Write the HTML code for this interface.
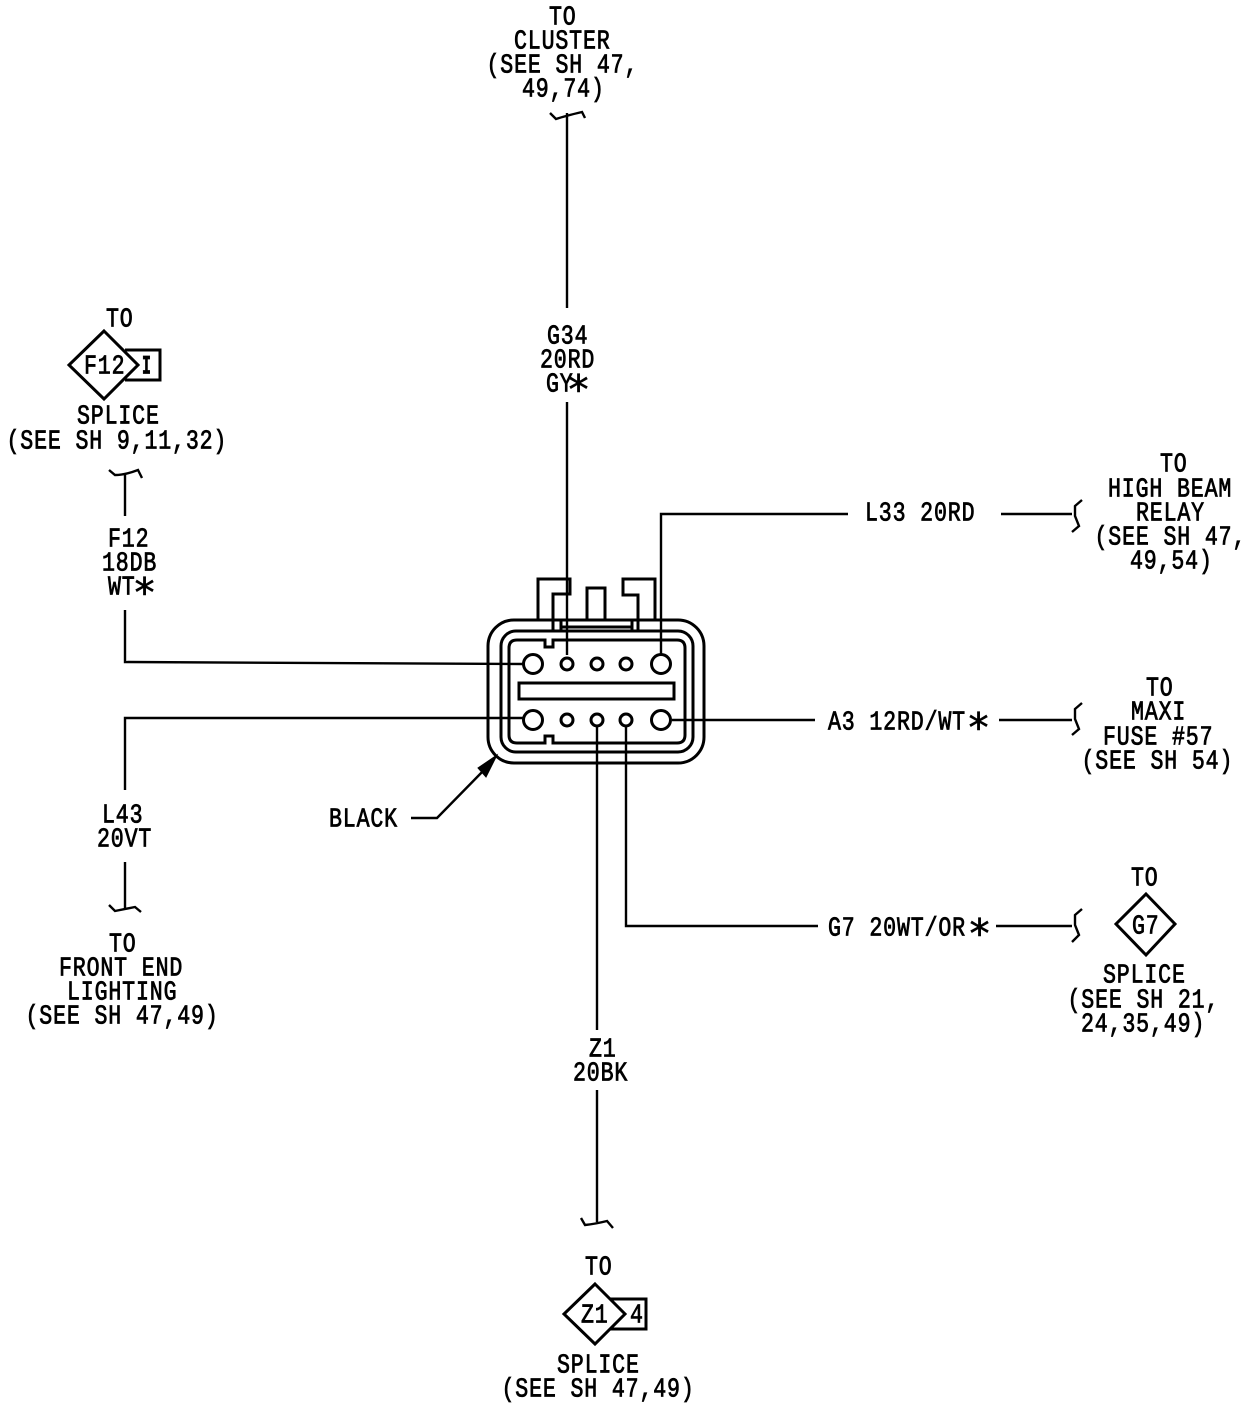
<!DOCTYPE html>
<html><head><meta charset="utf-8"><style>
html,body{margin:0;padding:0;background:#fff}
svg{display:block}
text{font-family:"Liberation Mono",monospace;font-size:27px;letter-spacing:1.05px;fill:#000;stroke:#000;stroke-width:.8px}
.a{font-family:"DejaVu Sans Mono",monospace;font-size:40px;letter-spacing:0;text-anchor:middle;stroke-width:.6px}
.b{font-weight:bold;text-anchor:middle;letter-spacing:0}
.w{fill:none;stroke:#000;stroke-width:2.4}
.t{fill:none;stroke:#000;stroke-width:3}
</style></head><body>
<svg width="1248" height="1406" viewBox="0 0 1248 1406" xmlns="http://www.w3.org/2000/svg">
<g class="w">
<!-- wires -->
<path d="M567 113V308M567 402V655"/>
<path d="M661 655V514H848M1001 514H1072"/>
<path d="M125 474V516M125 610V662L524 664"/>
<path d="M524 718L125 718V790M125 862V910"/>
<path d="M672 720H815M999 720H1072"/>
<path d="M626 726V926H818M996 926H1072"/>
<path d="M597 726V1030M597 1090V1222"/>
<!-- breaks -->
<path d="M550 113L556 119Q565 116 582 112L585 118"/>
<path d="M109 470L115 475Q125 475 138 470L142 478"/>
<path d="M109 905L115 911Q125 909 135 907L141 912"/>
<path d="M581 1218L585 1225Q595 1224 607 1221L613 1228"/>
<path d="M1082 500L1075 506V516L1079 526L1072 532"/>
<path d="M1082 703L1075 709V719L1079 729L1072 735"/>
<path d="M1082 909L1075 915V925L1079 935L1072 942"/>
<!-- arrow -->
<path d="M411 818H437L486 768"/>
</g>
<path d="M497 755L478 768L486 777Z" fill="#000" stroke="#000"/>
<g class="t">
<!-- connector body -->
<rect x="488" y="620" width="216" height="143" rx="26"/>
<rect x="501" y="631" width="192" height="121" rx="15"/>
<path d="M517 640H545V647H553V640H677Q685 640 685 648V735Q685 743 677 743H553V736H545V743H517Q509 743 509 735V648Q509 640 517 640Z"/>
<rect x="519" y="683" width="155" height="16"/>
<circle cx="533" cy="664" r="9.5"/><circle cx="661" cy="664" r="9.5"/>
<circle cx="533" cy="720" r="9.5"/><circle cx="661" cy="720" r="9.5"/>
<circle cx="567" cy="664" r="6"/><circle cx="597" cy="664" r="6"/><circle cx="626" cy="664" r="6"/>
<circle cx="567" cy="720" r="6"/><circle cx="597" cy="720" r="6"/><circle cx="626" cy="720" r="6"/>
<!-- tabs -->
<path d="M538 620V579H570V594H553V631"/>
<path d="M655 620V579H623V595H638V631"/>
<path d="M561 631V620H587V588H605V620H632V631M561 627H632"/>
<!-- splice symbols -->
<path d="M104 331L138 365L104 399L69 365Z"/>
<path d="M125 350H160V380H125"/>
<path d="M1146 894L1175 924L1146 955L1116 924Z"/>
<path d="M595 1284L625 1314L595 1344L564 1314Z"/>
<path d="M610 1299H646V1329H610"/>
</g>
<!-- labels -->
<g transform="translate(1.5 .5)">
<text transform="translate(547.5 24) scale(.8 1)">TO</text>
<text transform="translate(512.5 48) scale(.8 1)">CLUSTER</text>
<text transform="translate(485 72) scale(.8 1)">(SEE SH 47,</text>
<text transform="translate(520.5 96) scale(.8 1)">49,74)</text>
<text transform="translate(545.5 343) scale(.8 1)">G34</text>
<text transform="translate(538.5 367) scale(.8 1)">20RD</text>
<text transform="translate(544.5 391) scale(.8 1)">GY</text>
<text class="a" x="577" y="403">*</text>
<text transform="translate(104.5 326) scale(.8 1)">TO</text>
<text transform="translate(82.5 373) scale(.8 1)">F12</text>
<text class="b" transform="translate(145 373) scale(.55 1)">I</text>
<text transform="translate(75.5 423) scale(.8 1)">SPLICE</text>
<text transform="translate(5 448) scale(.8 1)">(SEE SH 9,11,32)</text>
<text transform="translate(106.5 546) scale(.8 1)">F12</text>
<text transform="translate(100.5 570) scale(.8 1)">18DB</text>
<text transform="translate(106.5 594) scale(.8 1)">WT</text>
<text class="a" x="143" y="606">*</text>
<text transform="translate(863.5 520) scale(.8 1)">L33 20RD</text>
<text transform="translate(1158.5 471) scale(.8 1)">TO</text>
<text transform="translate(1106.5 496) scale(.8 1)">HIGH BEAM</text>
<text transform="translate(1134.5 520) scale(.8 1)">RELAY</text>
<text transform="translate(1093 544) scale(.8 1)">(SEE SH 47,</text>
<text transform="translate(1128.5 568) scale(.8 1)">49,54)</text>
<text transform="translate(1144.5 695) scale(.8 1)">TO</text>
<text transform="translate(1129.5 719) scale(.8 1)">MAXI</text>
<text transform="translate(1101.5 744) scale(.8 1)">FUSE #57</text>
<text transform="translate(1080 768) scale(.8 1)">(SEE SH 54)</text>
<text transform="translate(826.5 729) scale(.8 1)">A3 12RD/WT</text>
<text class="a" x="977" y="741">*</text>
<text transform="translate(826.5 935) scale(.8 1)">G7 20WT/OR</text>
<text class="a" x="978" y="947">*</text>
<text transform="translate(1129.5 885) scale(.8 1)">TO</text>
<text transform="translate(1130.5 933) scale(.8 1)">G7</text>
<text transform="translate(1101.5 982) scale(.8 1)">SPLICE</text>
<text transform="translate(1066 1007) scale(.8 1)">(SEE SH 21,</text>
<text transform="translate(1079.5 1031) scale(.8 1)">24,35,49</text>
<text transform="translate(1190 1031) scale(.8 1)">)</text>
<text transform="translate(587.5 1056) scale(.8 1)">Z1</text>
<text transform="translate(571.5 1080) scale(.8 1)">20BK</text>
<text transform="translate(583.5 1274) scale(.8 1)">TO</text>
<text transform="translate(579.5 1322) scale(.8 1)">Z1</text>
<text transform="translate(628.5 1322) scale(.8 1)">4</text>
<text transform="translate(555.5 1372) scale(.8 1)">SPLICE</text>
<text transform="translate(500 1396) scale(.8 1)">(SEE SH 47,49)</text>
<text transform="translate(327.5 826) scale(.8 1)">BLACK</text>
<text transform="translate(100.5 822) scale(.8 1)">L43</text>
<text transform="translate(95.5 846) scale(.8 1)">20VT</text>
<text transform="translate(107.5 951) scale(.8 1)">TO</text>
<text transform="translate(57.5 975) scale(.8 1)">FRONT END</text>
<text transform="translate(65.5 999) scale(.8 1)">LIGHTING</text>
<text transform="translate(24 1023) scale(.8 1)">(SEE SH 47,49)</text>
</g>
</svg>
</body></html>
